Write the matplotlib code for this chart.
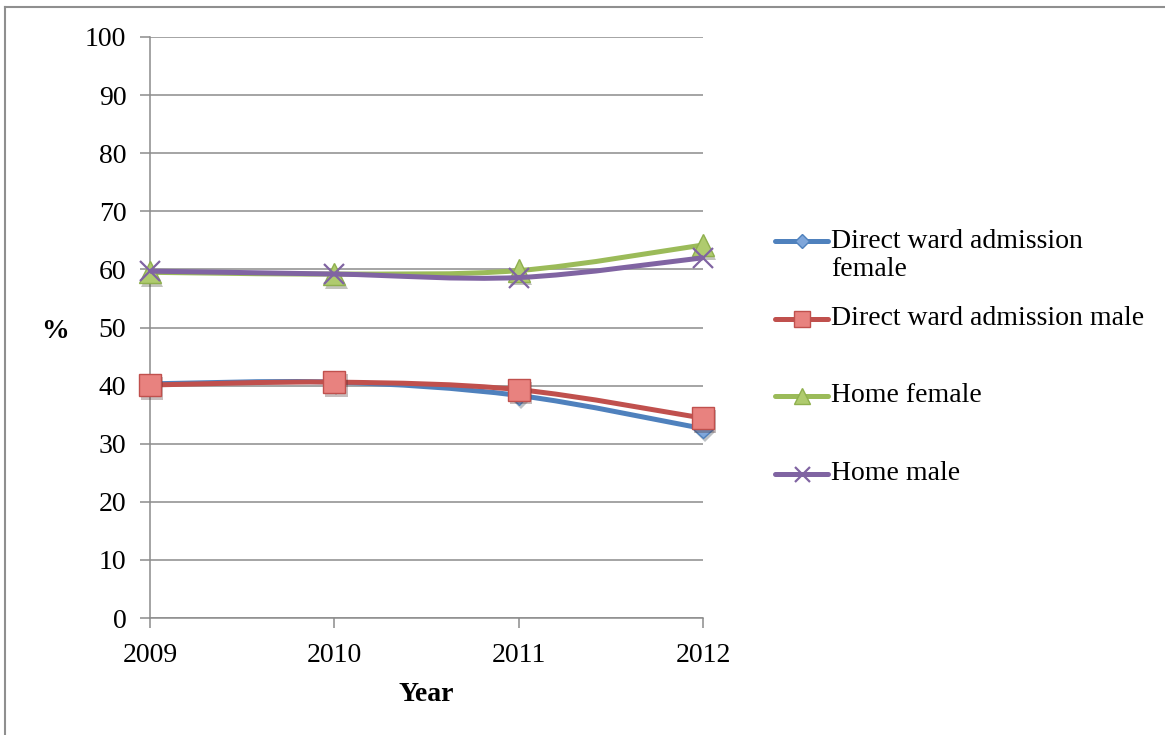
import numpy as np
import matplotlib
matplotlib.use("Agg")
import matplotlib.pyplot as plt
from matplotlib.path import Path
from matplotlib.patches import PathPatch
from matplotlib.lines import Line2D
import matplotlib.patheffects as pe

plt.rcParams['font.family'] = ['Liberation Serif', 'DejaVu Serif']

years = [2009, 2010, 2011, 2012]
direct_female = [40.3, 40.6, 38.3, 32.6]
direct_male = [40.1, 40.6, 39.3, 34.4]
home_female = [59.5, 59.2, 59.8, 64.2]
home_male = [59.7, 59.2, 58.6, 62.0]

series_labels = [["Direct ward admission", "female"], ["Direct ward admission male"],
                 ["Home female"], ["Home male"]]
y_ticks = list(range(0, 101, 10))

styles = [
    dict(color="#4F81BD", marker="D", ms=10, mfc="#7FA6DA", mec="#4F81BD"),
    dict(color="#C0504D", marker="s", ms=16, mfc="#E8827F", mec="#C0504D"),
    dict(color="#9BBB59", marker="^", ms=16, mfc="#AFCB6E", mec="#8FB04E"),
    dict(color="#8064A2", marker="x", ms=15, mfc="#8064A2", mec="#8064A2"),
]

FONT = 20


def smooth_path(xs, ys, tension=1/6):
    """Bezier path through the points with Catmull-Rom style control points."""
    pts = np.column_stack([xs, ys]).astype(float)
    verts = [pts[0]]
    codes = [Path.MOVETO]
    n = len(pts)
    for i in range(n - 1):
        p0 = pts[i - 1] if i > 0 else pts[i]
        p1 = pts[i]
        p2 = pts[i + 1]
        p3 = pts[i + 2] if i + 2 < n else pts[i + 1]
        c1 = p1 + (p2 - p0) * tension
        c2 = p2 - (p3 - p1) * tension
        verts += [c1, c2, p2]
        codes += [Path.CURVE4] * 3
    return Path(verts, codes)


fig = plt.figure(figsize=(11.65, 7.35), dpi=100)
ax = fig.add_axes([150 / 1165, 1 - 618 / 735, 553 / 1165, 581 / 735])

grid_c = "#8C8C8C"
ax.set_xlim(years[0], years[-1])
ax.set_ylim(0, 100)
ax.set_yticks(y_ticks)
ax.set_xticks(years)
ax.set_xticklabels([str(y) for y in years], fontsize=FONT)
ax.set_yticklabels([str(t) for t in y_ticks], fontsize=FONT)
ax.grid(axis="y", color=grid_c, linewidth=1.1)
ax.set_axisbelow(True)
for s in ["top", "right"]:
    ax.spines[s].set_visible(False)
for s in ["left", "bottom"]:
    ax.spines[s].set_color(grid_c)
    ax.spines[s].set_linewidth(1.1)
ax.tick_params(axis="y", direction="out", length=7, color=grid_c, width=1.1, pad=10)
ax.tick_params(axis="x", direction="out", length=7, color=grid_c, width=1.1, pad=11)

shadow = [pe.SimplePatchShadow(offset=(1.5, -2.5), alpha=0.3), pe.Normal()]

all_series = [direct_female, direct_male, home_female, home_male]
for i, vals in enumerate(all_series):
    st = styles[i]
    patch = PathPatch(smooth_path(years, vals), facecolor="none", edgecolor=st["color"],
                      linewidth=3.6, capstyle="round", joinstyle="round", zorder=3 + i)
    ax.add_patch(patch)
    mew = 1.6 if st["marker"] == "x" else 1.0
    ax.plot(years, vals, linestyle="none", marker=st["marker"], ms=st["ms"],
            mfc=st["mfc"], mec=st["mec"], mew=mew, zorder=4 + i, clip_on=False,
            path_effects=shadow if st["marker"] != "x" else None)

ax.set_xlabel("Year", fontsize=FONT, fontweight="bold", labelpad=10)
fig.text(55 / 1165, 1 - 332 / 735, "%", fontsize=FONT, fontweight="bold",
         ha="center", va="center")

# legend drawn at fixed figure positions
legend_y = [241, 319, 396, 474]
x0, x1 = 775 / 1165, 828 / 1165
for st, lines, yp in zip(styles, series_labels, legend_y):
    yf = 1 - yp / 735
    fig.add_artist(Line2D([x0, x1], [yf, yf], transform=fig.transFigure,
                          color=st["color"], linewidth=3.6, solid_capstyle="round"))
    fig.add_artist(Line2D([(x0 + x1) / 2], [yf], transform=fig.transFigure,
                          linestyle="none", marker=st["marker"],
                          ms=st["ms"] * 0.72, mfc=st["mfc"], mec=st["mec"],
                          mew=1.6 if st["marker"] == "x" else 1.0))
    for k, line in enumerate(lines):
        fig.text(831 / 1165, 1 - (yp + 28 * k) / 735, line, fontsize=FONT,
                 ha="left", va="center")

# outer chart frame (left and top edges)
frame_c = "#8F8F8F"
fig.add_artist(Line2D([5 / 1165, 5 / 1165], [0, 1 - 7 / 735], transform=fig.transFigure,
                      color=frame_c, linewidth=1.5))
fig.add_artist(Line2D([5 / 1165, 1], [1 - 7 / 735, 1 - 7 / 735], transform=fig.transFigure,
                      color=frame_c, linewidth=1.5))

fig.savefig("out.png", dpi=100)
